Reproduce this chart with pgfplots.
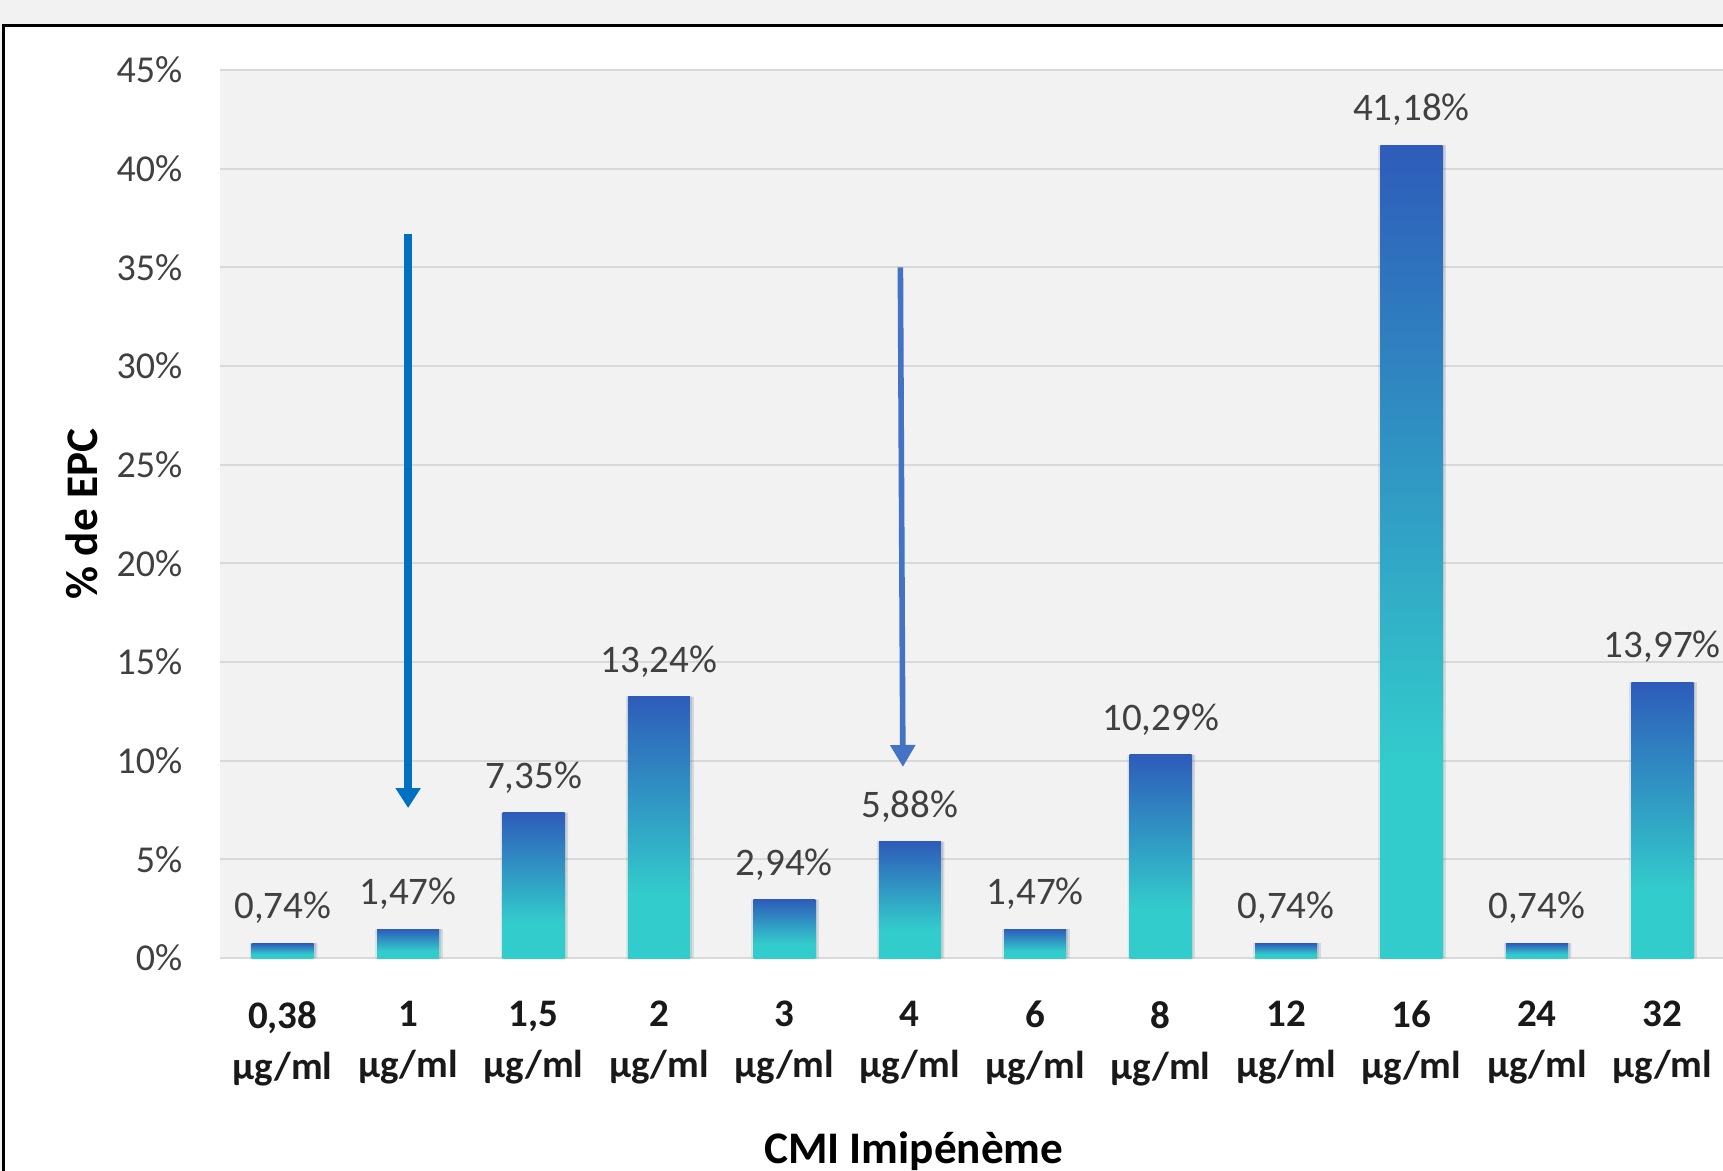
\documentclass[border=0pt]{standalone}
\usepackage{pgfplots}
\pgfplotsset{compat=1.18}
\usepackage{fontspec}
\setmainfont{Carlito}
\usetikzlibrary{arrows.meta}

\definecolor{pagebg}{HTML}{F2F2F2}
\definecolor{gridc}{HTML}{D9D9D9}
\definecolor{ticktext}{HTML}{404040}
\definecolor{barblue}{HTML}{2E5CBA}
\definecolor{barturq}{HTML}{33CCCC}
\definecolor{arrowA}{HTML}{0070C0}
\definecolor{arrowB}{HTML}{4472C4}

% blue at the top of each bar, fading to turquoise over the lower part
\pgfdeclareverticalshading{barshade}{100bp}{color(0bp)=(barturq); color(37bp)=(barturq); color(75bp)=(barblue); color(100bp)=(barblue)}

\pgfplotsset{
  epcbar/.style={draw=none, shade, shading=barshade, bar shift=0pt,
    preaction={fill=black, opacity=0.07, transform canvas={xshift=0.9pt}},
    preaction={fill=black, opacity=0.07, transform canvas={xshift=0.45pt}},
    preaction={fill=black, opacity=0.05, transform canvas={xshift=-0.5pt}}},
}

\begin{document}
\begin{tikzpicture}
% page and chart frame
\fill[pagebg] (0,0) rectangle (430.75pt,292.5pt);
\filldraw[fill=white, draw=black, line width=0.75pt] (0.9pt,-5pt) rectangle (445pt,286pt);

\begin{axis}[
  at={(55pt,53pt)}, anchor=south west,
  scale only axis, width=376.25pt, height=222pt,
  ybar, bar width=15.5pt,
  xmin=-0.5, xmax=11.5, ymin=0, ymax=45,
  enlargelimits=false, clip=false,
  axis background/.style={fill=pagebg},
  axis line style={draw=none},
  major tick length=0pt,
  ymajorgrids, grid style={gridc, line width=0.5pt},
  ytick={0,5,...,45},
  yticklabels={0\%,5\%,10\%,15\%,20\%,25\%,30\%,35\%,40\%,45\%},
  yticklabel style={anchor=east, inner sep=0pt, xshift=-9.25pt, text=ticktext, font=\fontsize{9.5}{11}\selectfont},
  xtick={0,...,11},
  xticklabels={{0,38\\µg/ml},{1\\µg/ml},{1,5\\µg/ml},{2\\µg/ml},{3\\µg/ml},{4\\µg/ml},{6\\µg/ml},{8\\µg/ml},{12\\µg/ml},{16\\µg/ml},{24\\µg/ml},{32\\µg/ml}},
  xticklabel style={anchor=north, inner sep=0pt, yshift=-10.6pt, align=center, text=black!90, font=\fontsize{9.75}{12.75}\selectfont\bfseries},
  every axis x label/.style={at={(rel axis cs:0.461,-0.2314)}, anchor=base, font=\fontsize{11.3}{13}\selectfont\bfseries},
  every axis y label/.style={at={(rel axis cs:-0.0814,0.5)}, rotate=90, anchor=base, font=\fontsize{11.3}{13}\selectfont\bfseries},
  xlabel={CMI Imipénème},
  ylabel={\% de EPC},
  nodes near coords={\pgfmathprintnumber[fixed,fixed zerofill,precision=2,use comma,assume math mode=true]{\pgfplotspointmeta}\%},
  every node near coord/.append style={anchor=south, inner sep=0pt, yshift=4.7pt, text=ticktext, font=\fontsize{9.75}{11}\selectfont},
]
% one plot per concentration so that each bar gets its own gradient
\addplot[epcbar] coordinates {(0,0.74)};
\addplot[epcbar] coordinates {(1,1.47)};
\addplot[epcbar] coordinates {(2,7.35)};
\addplot[epcbar] coordinates {(3,13.24)};
\addplot[epcbar] coordinates {(4,2.94)};
\addplot[epcbar] coordinates {(5,5.88)};
\addplot[epcbar] coordinates {(6,1.47)};
\addplot[epcbar] coordinates {(7,10.29)};
\addplot[epcbar] coordinates {(8,0.74)};
\addplot[epcbar] coordinates {(9,41.18)};
\addplot[epcbar] coordinates {(10,0.74)};
\addplot[epcbar] coordinates {(11,13.97)};
% annotation arrows
\draw[arrowA, line width=2pt, -{Triangle[width=6pt,length=5pt]}] (axis cs:1,36.7) -- (axis cs:1,7.6);
\draw[arrowB, line width=1.4pt, -{Triangle[width=6pt,length=5.5pt]}] (axis cs:4.925,35) -- (axis cs:4.945,9.68);
\end{axis}

\pgfresetboundingbox
\useasboundingbox (0,0) rectangle (430.75pt,292.5pt);
\end{tikzpicture}
\end{document}
